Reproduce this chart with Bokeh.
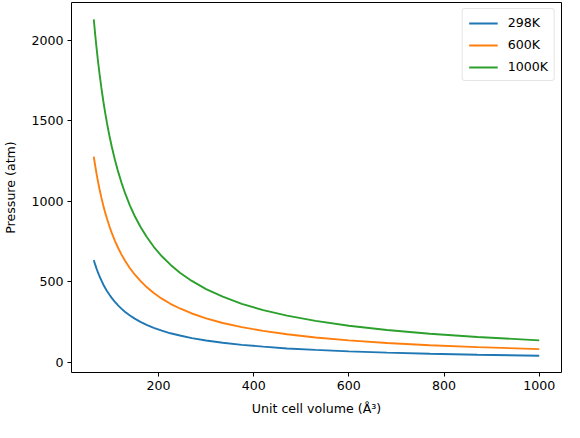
from bokeh.plotting import figure
from bokeh.models import Range1d, Legend, LegendItem, FixedTicker
from bokeh.embed import file_html
from bokeh.resources import INLINE

volume = [64, 67, 70, 73, 76, 80, 84, 88, 92, 97, 102, 108, 115, 122, 130, 140, 150, 162,
          175, 190, 207, 225, 245, 270, 300, 335, 375, 420, 470, 530, 600, 680, 770, 870, 1000]
p_298 = [634, 606, 580, 556, 534, 508, 483, 461, 441, 419, 398, 376, 353, 333, 312, 290, 271, 251,
         232, 214, 196, 180, 166, 150, 135, 121, 108, 97, 86, 77, 68, 60, 53, 47, 41]
p_600 = [1277, 1220, 1168, 1120, 1076, 1022, 973, 929, 889, 843, 802, 757, 711, 670, 629, 584, 545, 505,
         467, 430, 395, 363, 334, 303, 273, 244, 218, 195, 174, 154, 136, 120, 106, 94, 82]
p_1000 = [2129, 2034, 1947, 1867, 1793, 1703, 1622, 1548, 1481, 1405, 1336, 1262, 1185, 1117, 1048, 973, 908, 841,
          779, 717, 658, 606, 556, 505, 454, 407, 363, 324, 290, 257, 227, 200, 177, 157, 136]
series_labels = ["298K", "600K", "1000K"]
x_ticks = [200, 400, 600, 800, 1000]
y_ticks = [0, 500, 1000, 1500, 2000]

colors = ["#1f77b4", "#ff7f0e", "#2ca02c"]
FONT = "DejaVu Sans"
FS = "12.6px"

allp = p_298 + p_600 + p_1000
xpad = 0.05 * (max(volume) - min(volume))
ypad = 0.05 * (max(allp) - min(allp))

p = figure(width=564, height=422, output_backend="svg", toolbar_location=None,
           x_range=Range1d(min(volume) - xpad, max(volume) + xpad),
           y_range=Range1d(min(allp) - ypad, max(allp) + ypad),
           min_border_left=67, min_border_right=3, min_border_top=2, min_border_bottom=50)

p.xgrid.visible = False
p.ygrid.visible = False
p.outline_line_color = "black"
p.outline_line_width = 1
p.background_fill_color = "white"
p.border_fill_color = "white"

for ax in (p.xaxis[0], p.yaxis[0]):
    ax.axis_line_color = None
    ax.major_tick_line_color = "black"
    ax.major_tick_line_width = 1
    ax.major_tick_out = 4
    ax.major_tick_in = 0
    ax.minor_tick_line_color = None
    ax.major_label_text_font = FONT
    ax.major_label_text_font_size = FS
    ax.major_label_text_color = "black"
    ax.axis_label_text_font = FONT
    ax.axis_label_text_font_size = FS
    ax.axis_label_text_font_style = "normal"
    ax.axis_label_text_color = "black"
    ax.major_label_standoff = 4

p.xaxis.ticker = FixedTicker(ticks=x_ticks)
p.yaxis.ticker = FixedTicker(ticks=y_ticks)
p.xaxis.axis_label = "Unit cell volume (Å³)"
p.yaxis.axis_label = "Pressure (atm)"
p.xaxis.axis_label_standoff = 8
p.yaxis.axis_label_standoff = 10

items = []
for ys, c, lab in zip([p_298, p_600, p_1000], colors, series_labels):
    r = p.line(volume, ys, line_color=c, line_width=1.9)
    items.append(LegendItem(label=lab, renderers=[r]))

legend = Legend(items=items, location="top_right")
legend.label_text_font = FONT
legend.label_text_font_size = FS
legend.label_text_color = "black"
legend.border_line_color = "#cccccc"
legend.border_line_width = 1
legend.border_radius = 3
legend.background_fill_alpha = 0.8
legend.glyph_width = 29
legend.glyph_height = 14
legend.label_standoff = 10
legend.label_height = 14
legend.spacing = 7
legend.padding = 6
legend.margin = 6
p.add_layout(legend)

open("out.html", "w").write(file_html(p, INLINE))
